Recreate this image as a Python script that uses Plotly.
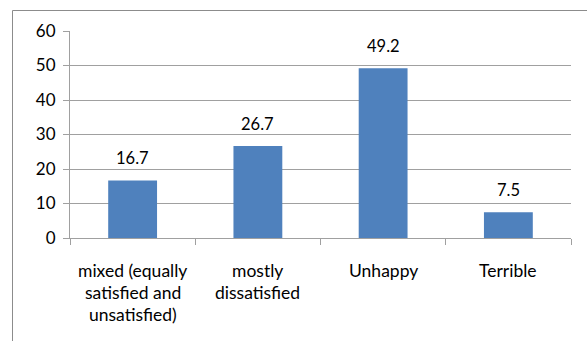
import plotly.graph_objects as go

categories = ["mixed (equally<br>satisfied and<br>unsatisfied)", "mostly<br>dissatisfied", "Unhappy", "Terrible"]
values = [16.7, 26.7, 49.2, 7.5]
value_labels = ["16.7", "26.7", "49.2", "7.5"]
y_ticks = [0, 10, 20, 30, 40, 50, 60]

W, H = 587, 341
L, R, T, B = 70, 16, 31, 103
pw, ph = W - L - R, H - T - B

FONT = "Lato, Liberation Sans, sans-serif"
BAR = "#4f81bd"
GRID = "#a0a0a0"

fig = go.Figure()
fig.add_trace(go.Bar(x=list(range(len(categories))), y=values, marker=dict(color=BAR, line=dict(width=0)),
                     width=0.39, hoverinfo="skip"))

ann = []
for i, (v, t) in enumerate(zip(values, value_labels)):
    ann.append(dict(x=i, y=v, xref="x", yref="y", text=t, showarrow=False,
                    yanchor="bottom", yshift=10, font=dict(family=FONT, size=16.5, color="#000")))
for i, c in enumerate(categories):
    for j, line in enumerate(c.split("<br>")):
        ypx = 270.5 + 22 * j
        ann.append(dict(x=i, y=(T + ph - ypx) / ph, xref="x", yref="paper", text=line, showarrow=False,
                        yanchor="middle", xanchor="center", font=dict(family=FONT, size=17.5, color="#000")))

def px2x(p):
    return (p - L) / pw

def py2y(p):
    return (T + ph - p) / ph

shapes = [
    dict(type="line", xref="paper", yref="paper", x0=px2x(12.5), x1=px2x(12.5), y0=py2y(10.5), y1=py2y(400),
         line=dict(color="#8c8c8c", width=1)),
    dict(type="line", xref="paper", yref="paper", x0=px2x(12.5), x1=px2x(700), y0=py2y(10.5), y1=py2y(10.5),
         line=dict(color="#8c8c8c", width=1)),
]

fig.update_layout(
    width=W, height=H, margin=dict(l=L, r=R, t=T, b=B),
    paper_bgcolor="white", plot_bgcolor="white", showlegend=False,
    annotations=ann, shapes=shapes,
    xaxis=dict(range=[-0.5, len(categories) - 0.5], tickmode="array",
               tickvals=[i - 0.5 for i in range(len(categories) + 1)], ticktext=[""] * (len(categories) + 1),
               ticks="outside", ticklen=6, tickcolor=GRID, showline=True, linecolor=GRID, linewidth=1,
               showgrid=False, zeroline=False, fixedrange=True),
    yaxis=dict(range=[0, 60], tickvals=y_ticks, ticktext=[str(t) for t in y_ticks],
               ticks="outside", ticklen=6, tickcolor=GRID, showline=True, linecolor=GRID, linewidth=1,
               showgrid=True, gridcolor=GRID, gridwidth=1, zeroline=False,
               tickfont=dict(family=FONT, size=17, color="#000"), ticklabelstandoff=4, fixedrange=True),
)

fig.write_html("out.html", config={"displayModeBar": False})
